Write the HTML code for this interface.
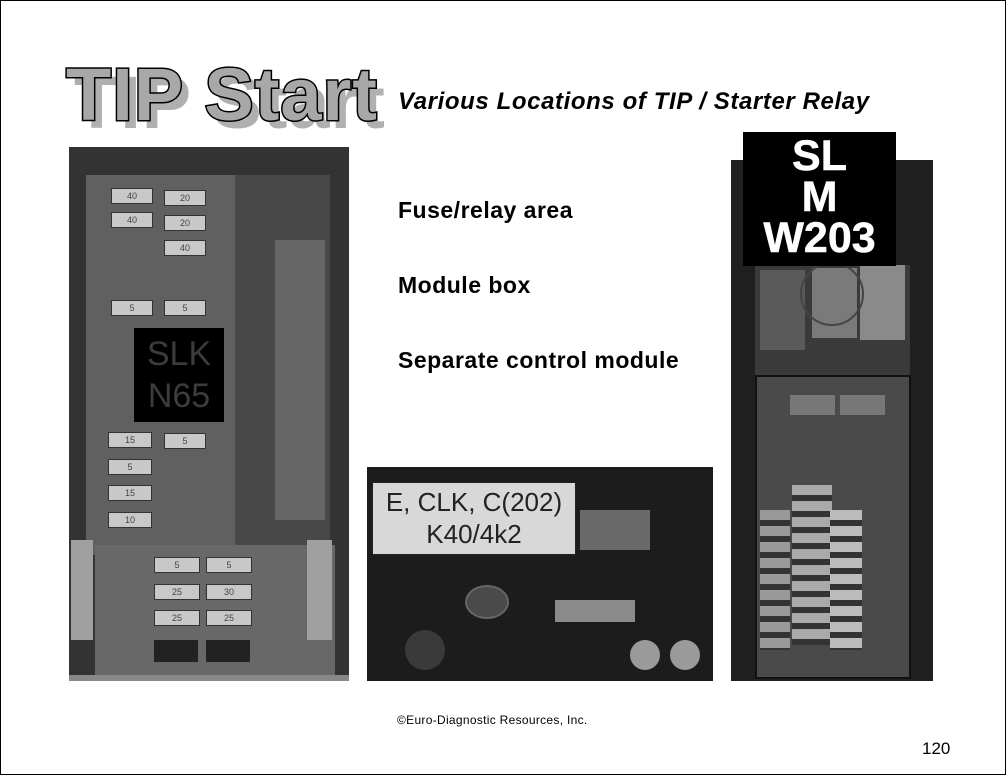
<!DOCTYPE html>
<html><head><meta charset="utf-8"><style>
body{margin:0;width:1006px;height:775px;background:#fff;position:relative;overflow:hidden;font-family:"Liberation Sans",sans-serif}
.frame{position:absolute;left:0;top:0;width:1004px;height:773px;border:1px solid #000}
.a{position:absolute}
.title{position:absolute;left:66px;top:52px;font-weight:bold;font-size:74px;letter-spacing:1px;color:#a8a8a8;-webkit-text-stroke:3px #000;paint-order:stroke fill;white-space:nowrap}
.shadow{position:absolute;left:74px;top:60px;font-weight:bold;font-size:74px;letter-spacing:1px;color:#b0b0b0;white-space:nowrap}
.f{position:absolute;background:#c8c8c8;border:1px solid #333;font-size:9px;text-align:center;color:#444;line-height:14px}
.t{position:absolute;font-weight:bold;font-size:23px;letter-spacing:0.5px;color:#000}
</style></head><body>
<div class="frame"></div>
<div class="shadow">TIP Start</div>
<div class="title">TIP Start</div>
<div class="a" style="left:398px;top:88px;font-size:24px;letter-spacing:0.6px;font-style:italic;font-weight:bold;white-space:nowrap">Various Locations of TIP / Starter Relay</div>
<div class="t" style="left:398px;top:197px">Fuse/relay area</div>
<div class="t" style="left:398px;top:272px">Module box</div>
<div class="t" style="left:398px;top:347px">Separate control module</div>

<!-- left photo -->
<div class="a" style="left:69px;top:147px;width:280px;height:534px;background:#333"></div>
<div class="a" style="left:86px;top:175px;width:150px;height:380px;background:#606060"></div>
<div class="a" style="left:235px;top:175px;width:95px;height:380px;background:#484848"></div>
<div class="a" style="left:275px;top:240px;width:50px;height:280px;background:#666"></div>
<div class="a" style="left:95px;top:545px;width:240px;height:130px;background:#686868"></div>
<div class="a" style="left:71px;top:540px;width:22px;height:100px;background:#a0a0a0"></div>
<div class="a" style="left:307px;top:540px;width:25px;height:100px;background:#a0a0a0"></div>
<div class="a" style="left:69px;top:675px;width:280px;height:6px;background:#888"></div>
<div class="f" style="left:111px;top:188px;width:40px;height:14px">40</div>
<div class="f" style="left:111px;top:212px;width:40px;height:14px">40</div>
<div class="f" style="left:111px;top:300px;width:40px;height:14px">5</div>
<div class="f" style="left:108px;top:432px;width:42px;height:14px">15</div>
<div class="f" style="left:108px;top:459px;width:42px;height:14px">5</div>
<div class="f" style="left:108px;top:485px;width:42px;height:14px">15</div>
<div class="f" style="left:108px;top:512px;width:42px;height:14px">10</div>
<div class="f" style="left:164px;top:190px;width:40px;height:14px">20</div>
<div class="f" style="left:164px;top:215px;width:40px;height:14px">20</div>
<div class="f" style="left:164px;top:240px;width:40px;height:14px">40</div>
<div class="f" style="left:164px;top:300px;width:40px;height:14px">5</div>
<div class="f" style="left:164px;top:433px;width:40px;height:14px">5</div>
<div class="f" style="left:154px;top:557px;width:44px;height:14px">5</div>
<div class="f" style="left:206px;top:557px;width:44px;height:14px">5</div>
<div class="f" style="left:154px;top:584px;width:44px;height:14px">25</div>
<div class="f" style="left:206px;top:584px;width:44px;height:14px">30</div>
<div class="f" style="left:154px;top:610px;width:44px;height:14px">25</div>
<div class="f" style="left:206px;top:610px;width:44px;height:14px">25</div>
<div class="a" style="left:154px;top:640px;width:44px;height:22px;background:#222"></div>
<div class="a" style="left:206px;top:640px;width:44px;height:22px;background:#222"></div>
<div class="a" style="left:134px;top:328px;width:90px;height:94px;background:#000;color:#3c3c3c;font-size:34px;text-align:center;line-height:42px;padding-top:5px;box-sizing:border-box">SLK<br>N65</div>

<!-- middle photo -->
<div class="a" style="left:367px;top:467px;width:346px;height:214px;background:#1c1c1c"></div>
<div class="a" style="left:580px;top:510px;width:70px;height:40px;background:#6a6a6a"></div>
<div class="a" style="left:465px;top:585px;width:40px;height:30px;background:#4a4a4a;border-radius:50%;border:2px solid #666"></div>
<div class="a" style="left:555px;top:600px;width:80px;height:22px;background:#8a8a8a"></div>
<div class="a" style="left:630px;top:640px;width:30px;height:30px;background:#9a9a9a;border-radius:50%"></div>
<div class="a" style="left:670px;top:640px;width:30px;height:30px;background:#9a9a9a;border-radius:50%"></div>
<div class="a" style="left:405px;top:630px;width:40px;height:40px;background:#3a3a3a;border-radius:50%"></div>
<div class="a" style="left:372px;top:482px;width:204px;height:73px;background:#d8d8d8;border:1px solid #222;box-sizing:border-box;color:#222;font-size:26px;text-align:center;line-height:32px;padding-top:3px">E, CLK, C(202)<br>K40/4k2</div>

<!-- right photo -->
<div class="a" style="left:731px;top:160px;width:202px;height:521px;background:#202020"></div>
<div class="a" style="left:755px;top:265px;width:155px;height:130px;background:#3a3a3a"></div>
<div class="a" style="left:760px;top:270px;width:45px;height:80px;background:#5a5a5a"></div>
<div class="a" style="left:860px;top:265px;width:45px;height:75px;background:#8a8a8a"></div>
<div class="a" style="left:812px;top:268px;width:45px;height:70px;background:#7a7a7a"></div>
<div class="a" style="left:800px;top:262px;width:60px;height:60px;border:2px solid #444;border-radius:50%"></div>
<div class="a" style="left:755px;top:375px;width:152px;height:300px;background:#4a4a4a;border:2px solid #111"></div>
<div class="a" style="left:790px;top:395px;width:45px;height:20px;background:#777"></div>
<div class="a" style="left:840px;top:395px;width:45px;height:20px;background:#777"></div>
<div class="a" style="left:792px;top:485px;width:40px;height:160px;background:repeating-linear-gradient(#aaa 0 10px,#333 10px 16px)"></div>
<div class="a" style="left:830px;top:510px;width:32px;height:140px;background:repeating-linear-gradient(#bbb 0 10px,#333 10px 16px)"></div>
<div class="a" style="left:760px;top:510px;width:30px;height:140px;background:repeating-linear-gradient(#999 0 10px,#333 10px 16px)"></div>
<div class="a" style="left:743px;top:132px;width:153px;height:134px;background:#000;color:#fff;font-weight:bold;font-size:43px;text-align:center;line-height:41px;padding-top:4px;box-sizing:border-box;-webkit-text-stroke:0.5px #fff">SL<br>M<br>W203</div>

<div class="a" style="left:397px;top:713px;font-size:12px;letter-spacing:0.3px">©Euro-Diagnostic Resources, Inc.</div>
<div class="a" style="left:922px;top:739px;font-size:17px">120</div>
</body></html>
